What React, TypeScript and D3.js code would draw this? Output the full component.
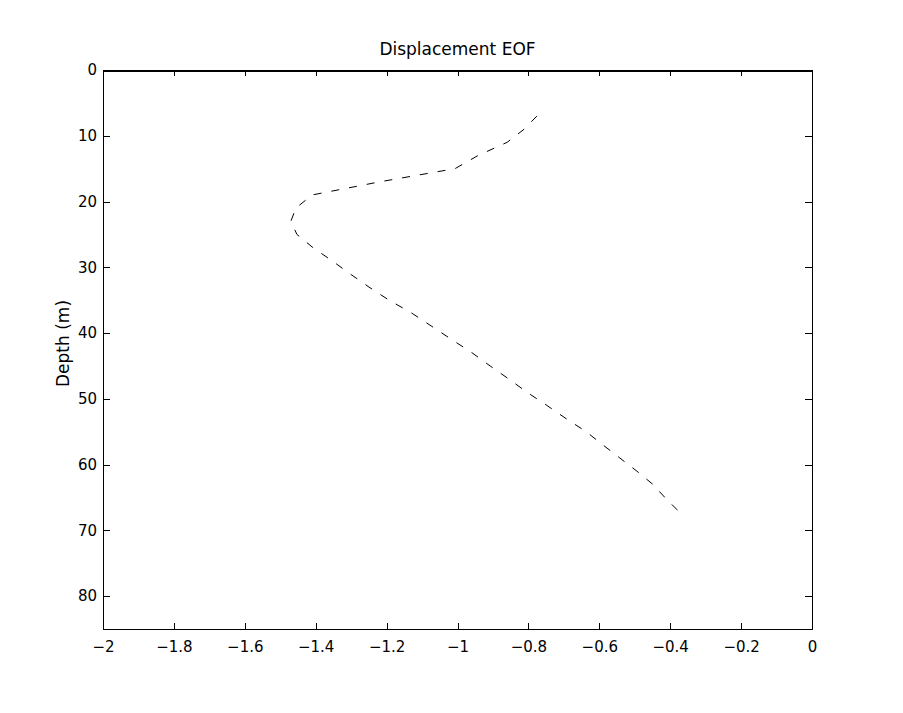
import React, { useEffect, useRef } from 'react';
import * as d3 from 'd3';

// depth of each sample (m) and the EOF displacement value
const depths = [7, 9, 11, 13, 15, 17, 19, 21, 23, 25, 27, 29, 31, 33, 35, 37, 39, 41, 43, 45, 47, 49, 51, 53, 55, 57, 59, 61, 63, 65, 67];
const displacement = [-0.776, -0.812, -0.86, -0.942, -1.007, -1.219, -1.41, -1.456, -1.47, -1.453, -1.408, -1.354, -1.303, -1.25, -1.193, -1.128, -1.072, -1.016, -0.959, -0.908, -0.855, -0.804, -0.748, -0.694, -0.637, -0.59, -0.542, -0.494, -0.449, -0.415, -0.378];

const xTicks = [-2, -1.8, -1.6, -1.4, -1.2, -1, -0.8, -0.6, -0.4, -0.2, 0];
const yTicks = [0, 10, 20, 30, 40, 50, 60, 70, 80];

const title = 'Displacement EOF';
const yLabel = 'Depth (m)';

export default function App() {
  const ref = useRef<SVGSVGElement>(null);

  useEffect(() => {
    const width = 903;
    const height = 713;
    const margin = { top: 70, right: 91, bottom: 84, left: 103 };
    const w = width - margin.left - margin.right;
    const h = height - margin.top - margin.bottom;
    const font = '"DejaVu Sans", sans-serif';

    const svg = d3.select(ref.current);
    svg.selectAll('*').remove();

    const g = svg.append('g').attr('transform', `translate(${margin.left}, ${margin.top})`);

    const x = d3.scaleLinear().domain([-2, 0]).range([0, w]);
    const y = d3.scaleLinear().domain([0, 85]).range([0, h]);

    // left axis with labels, ticks pointing inward
    const left = g.append('g')
      .call(d3.axisLeft(y).tickValues(yTicks).tickSizeInner(-7).tickSizeOuter(0).tickPadding(6));
    left.selectAll('text').attr('font-size', 15).attr('font-family', font).attr('fill', '#000');

    const bottom = g.append('g')
      .attr('transform', `translate(0, ${h})`)
      .call(d3.axisBottom(x).tickValues(xTicks).tickSizeInner(-6).tickSizeOuter(0).tickPadding(12)
        .tickFormat(d => d3.format('')(d as number).replace('-', '\u2212')));
    bottom.selectAll('text').attr('font-size', 15).attr('font-family', font).attr('fill', '#000');

    // top and right: ticks only
    const top = g.append('g')
      .call(d3.axisTop(x).tickValues(xTicks).tickSizeInner(-6).tickSizeOuter(0).tickFormat(() => ''));
    top.select('.domain').attr('stroke-width', 2);

    g.append('g')
      .attr('transform', `translate(${w}, 0)`)
      .call(d3.axisRight(y).tickValues(yTicks).tickSizeInner(-7).tickSizeOuter(0).tickFormat(() => ''));

    g.selectAll('.domain, .tick line').attr('stroke', '#000').attr('shape-rendering', 'crispEdges');

    // the EOF profile
    const points = depths.map((d, i) => [displacement[i], d] as [number, number]);
    const line = d3.line<[number, number]>().x(d => x(d[0])).y(d => y(d[1]));
    g.append('path')
      .datum(points)
      .attr('d', line)
      .attr('fill', 'none')
      .attr('stroke', '#000')
      .attr('stroke-width', 1)
      .attr('stroke-dasharray', '8,10');

    svg.append('text')
      .attr('x', margin.left + w / 2)
      .attr('y', 55)
      .attr('text-anchor', 'middle')
      .attr('font-size', 17)
      .attr('font-family', font)
      .text(title);

    svg.append('text')
      .attr('transform', `translate(69, ${margin.top + h / 2 - 6}) rotate(-90)`)
      .attr('text-anchor', 'middle')
      .attr('font-size', 17)
      .attr('font-family', font)
      .text(yLabel);
  }, []);

  return (
    <svg ref={ref} width={903} height={713}
      style={{ position: 'absolute', left: 0, top: 0, background: '#fff' }} />
  );
}
